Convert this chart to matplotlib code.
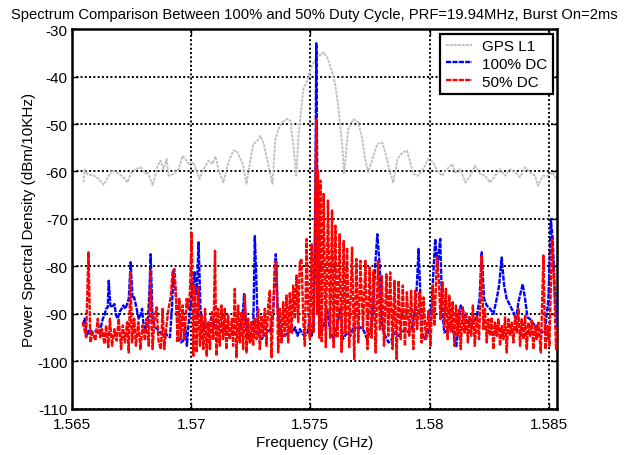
import numpy as np
import matplotlib
matplotlib.use('Agg')
import matplotlib.pyplot as plt

plt.rcParams['font.family'] = ['Liberation Sans', 'DejaVu Sans']
plt.rcParams['font.size'] = 11
plt.rcParams['axes.unicode_minus'] = False

# GPS L1 reference spectrum (MHz, dBm/10kHz)
gps_f = [1565.48, 1565.53, 1565.64, 1565.92, 1566.13, 1566.33, 1566.54, 1566.70, 1566.90, 1567.12,
         1567.33, 1567.46, 1567.67, 1567.88, 1568.09, 1568.17, 1568.38, 1568.59, 1568.71, 1568.84,
         1568.97, 1569.05, 1569.26, 1569.47, 1569.64, 1569.76, 1569.89, 1570.10, 1570.27, 1570.35,
         1570.52, 1570.73, 1570.89, 1571.02, 1571.15, 1571.35, 1571.56, 1571.77, 1571.90, 1572.07,
         1572.19, 1572.32, 1572.49, 1572.61, 1572.78, 1572.90, 1573.03, 1573.20, 1573.41, 1573.53,
         1573.66, 1573.83, 1574.04, 1574.16, 1574.29, 1574.41, 1574.50, 1574.62, 1574.71, 1574.87,
         1575.04, 1575.21, 1575.38, 1575.42, 1575.54, 1575.71, 1575.92, 1576.05, 1576.17, 1576.34,
         1576.42, 1576.59, 1576.80, 1577.01, 1577.18, 1577.30, 1577.43, 1577.60, 1577.81, 1578.02,
         1578.18, 1578.35, 1578.48, 1578.65, 1578.86, 1579.06, 1579.19, 1579.32, 1579.53, 1579.74,
         1579.95, 1580.16, 1580.32, 1580.53, 1580.74, 1580.95, 1581.08, 1581.29, 1581.50, 1581.71,
         1581.91, 1582.12, 1582.33, 1582.54, 1582.75, 1582.96, 1583.17, 1583.38, 1583.59, 1583.80,
         1584.01, 1584.22, 1584.43, 1584.55, 1584.76, 1584.97, 1585.18, 1585.35]
gps_p = [-62.3, -59.6, -60.5, -60.9, -61.6, -62.8, -60.9, -59.8, -60.3, -61.0,
         -62.3, -60.5, -59.5, -59.1, -60.5, -60.0, -62.9, -58.8, -57.7, -59.5,
         -57.4, -60.9, -60.5, -59.5, -56.7, -57.4, -58.4, -58.1, -60.5, -61.6,
         -59.5, -57.7, -58.4, -56.8, -59.8, -62.3, -58.1, -55.6, -55.6, -57.4,
         -58.8, -62.6, -57.4, -54.2, -53.5, -52.5, -53.9, -57.7, -62.6, -53.2,
         -51.1, -49.6, -48.9, -49.3, -54.6, -60.9, -52.5, -46.8, -42.6, -40.9,
         -38.1, -36.3, -35.3, -35.6, -34.9, -36.0, -39.1, -41.9, -46.1, -54.6,
         -60.5, -51.1, -49.0, -49.6, -53.2, -57.4, -60.2, -57.4, -54.2, -53.9,
         -56.7, -60.2, -62.3, -57.4, -56.0, -55.6, -58.1, -60.5, -60.9, -59.5,
         -57.4, -58.1, -59.8, -60.9, -59.5, -58.4, -60.2, -59.5, -62.3, -60.9,
         -58.8, -60.5, -60.9, -62.3, -60.9, -59.5, -60.9, -59.5, -60.2, -61.2,
         -59.1, -60.2, -60.9, -63.0, -60.9, -60.9, -60.2, -62.0]

# 100% duty cycle
dc100_f = [1565.45, 1565.53, 1565.62, 1565.73, 1565.87, 1566.01, 1566.15, 1566.29, 1566.36, 1566.43,
           1566.50, 1566.54, 1566.61, 1566.68, 1566.78, 1566.85, 1566.92, 1566.99, 1567.08, 1567.15,
           1567.24, 1567.31, 1567.38, 1567.46, 1567.54, 1567.61, 1567.71, 1567.80, 1567.87, 1567.94,
           1567.99, 1568.08, 1568.17, 1568.24, 1568.30, 1568.38, 1568.48, 1568.59, 1568.69, 1568.80,
           1568.91, 1569.01, 1569.11, 1569.19, 1569.26, 1569.36, 1569.47, 1569.57, 1569.67, 1569.75,
           1569.82, 1569.89, 1569.96, 1570.06, 1570.14, 1570.23, 1570.31, 1570.39, 1570.48, 1570.56,
           1570.65, 1570.76, 1570.87, 1570.97, 1571.06, 1571.18, 1571.29, 1571.39, 1571.48, 1571.60,
           1571.74, 1571.88, 1572.02, 1572.15, 1572.22, 1572.29, 1572.41, 1572.50, 1572.60, 1572.67,
           1572.73, 1572.78, 1572.85, 1572.96, 1573.06, 1573.20, 1573.34, 1573.45, 1573.55, 1573.63,
           1573.72, 1573.83, 1573.94, 1574.04, 1574.14, 1574.25, 1574.36, 1574.46, 1574.56, 1574.67,
           1574.78, 1574.88, 1574.98, 1575.05, 1575.13, 1575.19, 1575.25, 1575.29, 1575.33,
           1575.35, 1575.45, 1575.56, 1575.70, 1575.84, 1575.98, 1576.12, 1576.26, 1576.37, 1576.54,
           1576.68, 1576.82, 1576.96, 1577.10, 1577.24, 1577.38, 1577.52, 1577.63, 1577.72, 1577.81,
           1577.91, 1578.00, 1578.14, 1578.28, 1578.42, 1578.56, 1578.70, 1578.84, 1578.98, 1579.12,
           1579.26, 1579.40, 1579.47, 1579.54, 1579.61, 1579.68, 1579.78, 1579.89, 1580.03, 1580.14,
           1580.24, 1580.34, 1580.45, 1580.53, 1580.62, 1580.73, 1580.87, 1581.01, 1581.12, 1581.22,
           1581.31, 1581.43, 1581.57, 1581.71, 1581.85, 1581.99, 1582.10, 1582.19, 1582.29, 1582.40,
           1582.54, 1582.68, 1582.82, 1582.92, 1583.03, 1583.13, 1583.24, 1583.38, 1583.52, 1583.63,
           1583.73, 1583.83, 1583.91, 1584.01, 1584.11, 1584.22, 1584.36, 1584.50, 1584.61, 1584.72,
           1584.85, 1584.99, 1585.09, 1585.17, 1585.27, 1585.37]
dc100_p = [-92.4, -91.0, -94.6, -93.2, -93.9, -93.5, -94.2, -91.0, -90.3, -88.9,
           -88.6, -83.0, -88.2, -88.6, -87.9, -90.3, -91.0, -89.6, -88.9, -88.2,
           -88.9, -87.9, -86.8, -79.1, -86.8, -86.5, -88.9, -91.0, -90.3, -88.9,
           -91.7, -93.2, -92.4, -86.1, -77.4, -91.0, -92.8, -93.2, -93.9, -94.2,
           -93.9, -94.6, -94.9, -88.9, -80.9, -86.1, -95.3, -96.0, -95.6, -92.8,
           -96.7, -92.1, -88.9, -84.7, -81.2, -86.1, -74.9, -88.9, -92.4, -93.2,
           -92.1, -92.4, -90.3, -92.4, -93.2, -92.8, -92.1, -93.2, -93.9, -94.6,
           -94.2, -93.9, -93.2, -91.0, -85.8, -91.0, -94.9, -95.6, -94.6, -73.6,
           -81.9, -91.0, -94.9, -95.3, -94.6, -93.9, -93.2, -88.9, -77.4, -88.9,
           -94.2, -94.6, -94.6, -94.2, -93.2, -93.9, -92.8, -94.6, -93.2, -94.2,
           -94.6, -93.9, -91.0, -94.6, -93.0, -80.0, -33.0, -60.0, -90.0,
           -88.2, -93.9, -92.5, -88.9, -93.9, -95.3, -92.5, -88.9, -95.3, -93.9,
           -94.6, -92.5, -93.2, -92.8, -93.5, -95.3, -93.5, -89.6, -79.8, -73.2,
           -79.8, -92.5, -94.6, -96.0, -95.3, -93.9, -94.6, -93.9, -93.2, -93.9,
           -93.2, -88.9, -84.0, -76.3, -85.4, -93.9, -95.3, -94.6, -92.5, -83.3,
           -74.2, -79.8, -74.2, -88.9, -93.9, -93.5, -92.5, -93.9, -97.0, -92.5,
           -88.2, -89.6, -91.1, -92.5, -91.8, -90.4, -86.8, -77.0, -86.8, -88.2,
           -88.9, -90.0, -86.8, -84.0, -78.1, -84.0, -86.8, -88.2, -89.6, -91.1,
           -87.5, -85.4, -83.7, -86.8, -90.7, -91.1, -92.1, -92.5, -93.5, -93.9,
           -93.2, -86.8, -70.0, -74.2, -86.8, -93.2]

# 50% duty cycle
dc50_f = [1565.45, 1565.59, 1565.69, 1565.77, 1565.87, 1565.98, 1566.08, 1566.18, 1566.26, 1566.36,
          1566.43, 1566.52, 1566.59, 1566.68, 1566.78, 1566.87, 1566.96, 1567.06, 1567.13, 1567.22,
          1567.31, 1567.38, 1567.45, 1567.52, 1567.61, 1567.68, 1567.78, 1567.87, 1567.96, 1568.06,
          1568.13, 1568.22, 1568.29, 1568.38, 1568.45, 1568.55, 1568.63, 1568.73, 1568.80, 1568.87,
          1568.97, 1569.05, 1569.15, 1569.22, 1569.30, 1569.36, 1569.43, 1569.50, 1569.57, 1569.64,
          1569.72, 1569.81, 1569.88, 1569.95, 1570.02, 1570.09, 1570.16, 1570.23, 1570.30, 1570.37,
          1570.44, 1570.51, 1570.58, 1570.65, 1570.72, 1570.79, 1570.87, 1570.93, 1571.00, 1571.06,
          1571.13, 1571.20, 1571.27, 1571.34, 1571.41, 1571.48, 1571.55, 1571.62, 1571.71, 1571.76,
          1571.83, 1571.90, 1571.97, 1572.04, 1572.11, 1572.18, 1572.25, 1572.32, 1572.39, 1572.46,
          1572.53, 1572.60, 1572.67, 1572.74, 1572.81, 1572.88, 1572.95, 1573.02, 1573.09, 1573.16,
          1573.23, 1573.30, 1573.37, 1573.44, 1573.51, 1573.58, 1573.65, 1573.72, 1573.79, 1573.86,
          1573.93, 1574.00, 1574.07, 1574.14, 1574.21, 1574.28, 1574.35, 1574.42, 1574.49, 1574.56,
          1574.63, 1574.70, 1574.77, 1574.84, 1574.91, 1574.98, 1575.06, 1575.13, 1575.25, 1575.28,
          1575.32, 1575.37, 1575.42, 1575.48, 1575.56, 1575.65, 1575.74, 1575.83, 1575.91, 1575.98,
          1576.05, 1576.13, 1576.23, 1576.31, 1576.40, 1576.47, 1576.54, 1576.63, 1576.75, 1576.84,
          1576.93, 1577.01, 1577.10, 1577.21, 1577.31, 1577.40, 1577.49, 1577.57, 1577.65, 1577.74,
          1577.84, 1577.92, 1578.00, 1578.09, 1578.19, 1578.27, 1578.35, 1578.45, 1578.53, 1578.62,
          1578.70, 1578.79, 1578.88, 1578.97, 1579.05, 1579.15, 1579.23, 1579.32, 1579.40, 1579.48,
          1579.58, 1579.67, 1579.75, 1579.85, 1579.96, 1580.04, 1580.14, 1580.21, 1580.31, 1580.39,
          1580.46, 1580.55, 1580.62, 1580.69, 1580.76, 1580.83, 1580.90, 1580.97, 1581.04, 1581.11,
          1581.18, 1581.24, 1581.31, 1581.40, 1581.47, 1581.54, 1581.61, 1581.68, 1581.75, 1581.82,
          1581.90, 1581.99, 1582.08, 1582.19, 1582.26, 1582.33, 1582.40, 1582.47, 1582.54, 1582.61,
          1582.68, 1582.75, 1582.82, 1582.89, 1582.96, 1583.03, 1583.10, 1583.17, 1583.24, 1583.31,
          1583.38, 1583.45, 1583.52, 1583.59, 1583.66, 1583.73, 1583.80, 1583.87, 1583.94, 1584.01,
          1584.08, 1584.15, 1584.22, 1584.29, 1584.36, 1584.43, 1584.50, 1584.57, 1584.67, 1584.78,
          1584.86, 1584.95, 1585.03, 1585.14, 1585.23, 1585.31, 1585.37]
dc50_p = [-91.7, -94.9, -77.0, -96.0, -93.9, -95.6, -91.0, -94.9, -93.2, -96.3,
          -92.4, -97.0, -91.0, -96.7, -93.2, -95.6, -91.0, -97.4, -92.4, -96.0,
          -91.7, -98.1, -81.2, -96.0, -91.0, -96.7, -91.7, -97.4, -92.4, -95.6,
          -91.0, -96.7, -80.9, -97.4, -91.7, -88.6, -95.6, -97.4, -88.9, -97.4,
          -92.1, -88.9, -86.1, -80.9, -80.5, -86.1, -96.0, -86.8, -95.3, -88.2,
          -95.6, -86.8, -88.9, -85.1, -72.9, -98.8, -84.0, -98.1, -84.4, -96.7,
          -90.3, -97.4, -88.9, -98.8, -91.7, -97.4, -89.6, -95.3, -76.7, -98.8,
          -88.9, -96.7, -88.2, -95.3, -88.9, -97.4, -90.3, -95.3, -91.0, -96.7,
          -84.7, -99.1, -88.2, -96.0, -89.6, -97.4, -86.1, -98.1, -91.0, -96.0,
          -91.7, -96.7, -91.0, -95.3, -88.9, -97.4, -90.3, -94.6, -88.9, -96.7,
          -88.2, -85.1, -99.1, -88.9, -79.1, -79.1, -98.1, -88.9, -96.0, -87.5,
          -94.6, -86.1, -96.0, -85.4, -93.9, -84.0, -91.0, -81.9, -91.7, -79.1,
          -78.4, -91.0, -96.7, -74.2, -88.9, -95.3, -75.3, -94.0, -49.0, -90.0,
          -59.8, -95.0, -61.9, -96.0, -64.7, -97.0, -66.1, -95.0, -68.2, -97.0,
          -71.4, -95.0, -73.2, -98.0, -74.6, -94.0, -76.0, -97.0, -76.0, -99.5,
          -78.4, -96.0, -78.8, -93.0, -78.8, -97.4, -80.2, -95.0, -80.9, -98.1,
          -78.8, -93.5, -82.0, -96.7, -81.6, -94.6, -81.2, -97.4, -83.0, -99.5,
          -83.0, -95.3, -84.0, -96.7, -85.4, -94.6, -85.1, -97.4, -85.1, -93.2,
          -85.4, -96.0, -86.5, -95.3, -89.3, -96.7, -84.0, -92.5, -78.1, -82.5,
          -91.1, -83.3, -92.8, -84.7, -95.3, -86.1, -93.9, -87.5, -96.7, -88.2,
          -94.6, -88.9, -97.4, -88.6, -93.9, -89.6, -96.0, -90.4, -94.6, -88.2,
          -96.7, -90.4, -95.3, -77.7, -93.2, -88.9, -96.0, -91.1, -94.6, -90.7,
          -97.4, -91.8, -94.6, -91.1, -96.7, -92.5, -95.3, -90.7, -98.1, -91.1,
          -94.6, -91.8, -96.0, -90.4, -93.9, -88.9, -96.7, -91.1, -95.3, -90.4,
          -97.4, -91.8, -94.6, -91.4, -97.4, -92.5, -95.3, -91.8, -98.1, -77.7,
          -97.4, -92.5, -96.7, -74.2, -84.0, -97.4, -93.0]

title = 'Spectrum Comparison Between 100% and 50% Duty Cycle, PRF=19.94MHz, Burst On=2ms'
xticks = [1.565, 1.57, 1.575, 1.58, 1.585]
xticklabels = ['1.565', '1.57', '1.575', '1.58', '1.585']
yticks = np.arange(-110, -29, 10)

fig = plt.figure(figsize=(6.29, 4.56), dpi=100)
ax = fig.add_axes([0.1145, 0.1009, 0.7718, 0.8333])

ax.plot(np.array(gps_f) / 1000, gps_p, color='#bdbdbd', lw=1.3,
        linestyle=(0, (1.6, 0.6)), label='GPS L1', zorder=2)
ax.plot(np.array(dc100_f) / 1000, dc100_p, color='#0000ff', lw=1.7,
        linestyle=(0, (2.2, 0.5)), label='100% DC', zorder=3)
ax.plot(np.array(dc50_f) / 1000, dc50_p, color='#ff0000', lw=1.7,
        linestyle=(0, (2.2, 0.5)), label='50% DC', zorder=4)

ax.set_xlim(1.56503, 1.58537)
ax.set_ylim(-110, -30)
ax.set_xticks(xticks)
ax.set_xticklabels(xticklabels)
ax.set_yticks(yticks)
ax.grid(True, color='black', linestyle=(0, (1, 1.2)), linewidth=1.4)
ax.tick_params(direction='in', top=True, right=True, length=4, width=1, labelsize=11)
ax.tick_params(axis='x', pad=6)
ax.tick_params(axis='y', pad=3)
for s in ax.spines.values():
    s.set_linewidth(1.8)

ax.set_title(title, fontsize=10.6, pad=8)
ax.set_xlabel('Frequency (GHz)', fontsize=11, labelpad=3)
ax.set_ylabel('Power Spectral Density (dBm/10KHz)', fontsize=11, labelpad=1)

leg = ax.legend(loc='upper right', fancybox=False, framealpha=1, edgecolor='black',
                handlelength=1.7, handletextpad=0.7, labelspacing=0.25,
                borderpad=0.35, borderaxespad=0.3, fontsize=11)
leg.get_frame().set_linewidth(1.6)

fig.savefig('out.png', dpi=100)
